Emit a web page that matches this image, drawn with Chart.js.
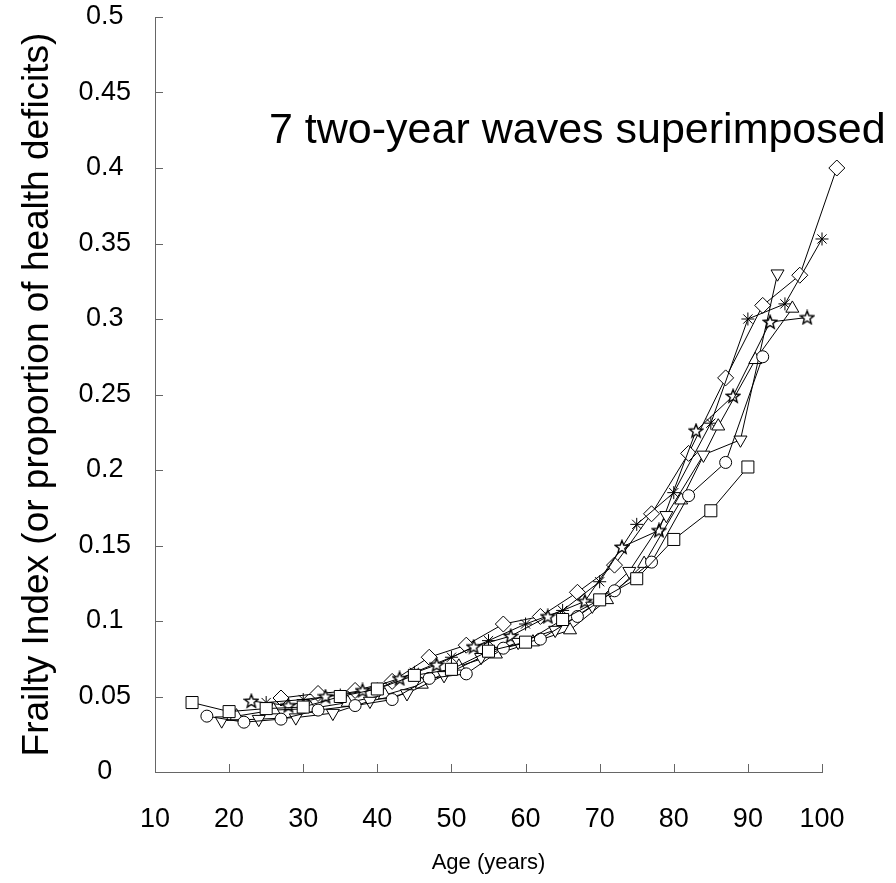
<!DOCTYPE html>
<html>
<head>
<meta charset="utf-8">
<script src="https://cdn.jsdelivr.net/npm/chart.js@4"></script>
<style>
  html, body { margin: 0; padding: 0; background: #fff; }
  #wrap { width: 896px; height: 883px; }
</style>
</head>
<body>
<div id="wrap"><canvas id="frailtyChart" width="896" height="883"></canvas></div>
<script>
// ages (years) for each of the 7 two-year waves
const ageSquare   = [15, 20, 25, 30, 35, 40, 45, 50, 55, 60, 65, 70, 75, 80, 85, 90];
const ageCircle   = [17, 22, 27, 32, 37, 42, 47, 52, 57, 62, 67, 72, 77, 82, 87, 92];
const ageDown     = [19, 24, 29, 34, 39, 44, 49, 54, 59, 64, 69, 74, 79, 84, 89, 94];
const ageUp       = [21, 26, 31, 36, 41, 46, 51, 56, 61, 66, 71, 76, 81, 86, 91, 96];
const ageStar     = [23, 28, 33, 38, 43, 48, 53, 58, 63, 68, 73, 78, 83, 88, 93, 98];
const ageAsterisk = [25, 30, 35, 40, 45, 50, 55, 60, 65, 70, 75, 80, 85, 90, 95, 100];
const ageDiamond  = [27, 32, 37, 42, 47, 52, 57, 62, 67, 72, 77, 82, 87, 92, 97, 102];

// frailty index values
const fiSquare   = [0.046, 0.040, 0.042, 0.043, 0.050, 0.055, 0.064, 0.068, 0.080, 0.086, 0.101, 0.114, 0.128, 0.154, 0.173, 0.202];
const fiCircle   = [0.037, 0.033, 0.035, 0.041, 0.044, 0.048, 0.062, 0.065, 0.082, 0.088, 0.103, 0.120, 0.139, 0.183, 0.205, 0.275];
const fiDown     = [0.034, 0.035, 0.036, 0.039, 0.047, 0.052, 0.064, 0.076, 0.086, 0.094, 0.110, 0.133, 0.170, 0.210, 0.220, 0.330];
const fiUp       = [0.037, 0.041, 0.042, 0.046, 0.051, 0.058, 0.070, 0.078, 0.086, 0.094, 0.114, 0.138, 0.180, 0.229, 0.273, 0.307];
const fiStar     = [0.047, 0.044, 0.050, 0.054, 0.062, 0.071, 0.083, 0.090, 0.103, 0.113, 0.149, 0.160, 0.226, 0.249, 0.298, 0.301];
const fiAsterisk = [0.046, 0.048, 0.051, 0.055, 0.066, 0.076, 0.087, 0.098, 0.107, 0.126, 0.164, 0.185, 0.231, 0.300, 0.310, 0.353];
const fiDiamond  = [0.049, 0.052, 0.054, 0.060, 0.076, 0.084, 0.098, 0.103, 0.119, 0.137, 0.171, 0.211, 0.261, 0.309, 0.329, 0.400];

const note = '7 two-year waves superimposed';

// outlined five-point star, Chart.js has no such point style
function starImage() {
    const c = document.createElement('canvas');
    c.width = 16; c.height = 16;
    const g = c.getContext('2d');
    g.beginPath();
    for (let i = 0; i < 10; i++) {
        const r = i % 2 === 0 ? 7 : 3;
        const a = -Math.PI / 2 + i * Math.PI / 5;
        const px = 8 + r * Math.cos(a), py = 8.5 + r * Math.sin(a);
        if (i === 0) g.moveTo(px, py); else g.lineTo(px, py);
    }
    g.closePath();
    g.fillStyle = '#fff';
    g.fill();
    g.lineWidth = 1.4;
    g.strokeStyle = '#000';
    g.stroke();
    return c;
}

function series(ages, vals, style, radius, rotation) {
    return {
        data: ages.map((a, i) => ({x: a, y: vals[i]})),
        borderColor: '#000',
        borderWidth: 1,
        pointStyle: style,
        pointRadius: radius,
        pointRotation: rotation || 0,
        pointBorderColor: '#000',
        pointBackgroundColor: '#fff',
        pointBorderWidth: 1,
        tension: 0,
        clip: false
    };
}

const innerTicks = {
    id: 'innerTicks',
    beforeDatasetsDraw(chart) {
        const {ctx, chartArea, scales} = chart;
        ctx.save();
        ctx.strokeStyle = '#666';
        ctx.lineWidth = 1;
        ctx.beginPath();
        scales.y.ticks.forEach(t => {
            const py = Math.round(scales.y.getPixelForValue(t.value)) + 0.5;
            ctx.moveTo(chartArea.left, py);
            ctx.lineTo(chartArea.left + 8, py);
        });
        scales.x.ticks.forEach(t => {
            const px = Math.round(scales.x.getPixelForValue(t.value)) + 0.5;
            ctx.moveTo(px, chartArea.bottom);
            ctx.lineTo(px, chartArea.bottom - 8);
        });
        ctx.stroke();
        ctx.restore();
    }
};

// points beyond the axis end (age > 100) are skipped by Chart.js, draw them here
const outsidePoints = {
    id: 'outsidePoints',
    afterDatasetsDraw(chart) {
        const area = chart.chartArea;
        const full = {left: 0, top: 0, right: chart.width, bottom: chart.height};
        chart.data.datasets.forEach((ds, i) => {
            chart.getDatasetMeta(i).data.forEach(pt => {
                if (pt.x > area.right + 2 || pt.y < area.top - 2) pt.draw(chart.ctx, full);
            });
        });
    }
};

const noteText = {
    id: 'noteText',
    afterDraw(chart) {
        const ctx = chart.ctx;
        ctx.save();
        ctx.fillStyle = '#000';
        ctx.font = '43px "Liberation Sans", Arial, sans-serif';
        ctx.textBaseline = 'alphabetic';
        ctx.fillText(note, 269, 143);
        ctx.restore();
    }
};

const ctx = document.getElementById('frailtyChart').getContext('2d');

const data = {
    datasets: [
        series(ageSquare, fiSquare, 'rect', 8.5),
        series(ageCircle, fiCircle, 'circle', 6),
        series(ageDown, fiDown, 'triangle', 7.5, 180),
        series(ageUp, fiUp, 'triangle', 7.5),
        series(ageStar, fiStar, starImage(), 7),
        series(ageAsterisk, fiAsterisk, 'star', 6.5),
        series(ageDiamond, fiDiamond, 'rectRot', 8)
    ]
};

const options = {
    responsive: false,
    animation: false,
    layout: { padding: { top: 17, right: 74, bottom: 0, left: 0 } },
    plugins: { legend: { display: false }, tooltip: { enabled: false } },
    scales: {
        x: {
            type: 'linear',
            min: 10,
            max: 100,
            grid: { display: false },
            border: { display: true, color: '#666', width: 1 },
            ticks: {
                stepSize: 10,
                padding: 23,
                color: '#000',
                font: { family: '"Liberation Sans", Arial, sans-serif', size: 27 }
            },
            title: {
                display: true,
                text: 'Age (years)',
                color: '#000',
                padding: { top: 0, bottom: 7 },
                font: { family: '"Liberation Sans", Arial, sans-serif', size: 22 }
            },
            afterFit(s) { s.height = 111; }
        },
        y: {
            type: 'linear',
            min: 0,
            max: 0.5,
            grid: { display: false },
            border: { display: true, color: '#666', width: 1 },
            ticks: {
                stepSize: 0.05,
                padding: 16,
                crossAlign: 'center',
                color: '#000',
                font: { family: '"Liberation Sans", Arial, sans-serif', size: 27 },
                callback: v => String(parseFloat(v.toFixed(2)))
            },
            title: {
                display: true,
                text: 'Frailty Index (or proportion of health deficits)',
                color: '#000',
                padding: { top: 16, bottom: 0 },
                font: { family: '"Liberation Sans", Arial, sans-serif', size: 37 }
            },
            afterFit(s) {
                s.width = 155;
                s.paddingTop = 0;
                s.paddingBottom = 0;
            }
        }
    }
};

const frailtyChart = new Chart(ctx, {
    type: 'line',
    data: data,
    options: options,
    plugins: [innerTicks, outsidePoints, noteText]
});
</script>
</body>
</html>
